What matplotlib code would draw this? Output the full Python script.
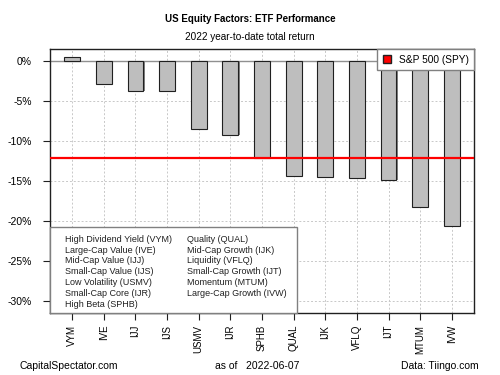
import matplotlib
matplotlib.use('Agg')
import matplotlib.pyplot as plt
from matplotlib.lines import Line2D
from matplotlib.patches import Rectangle

plt.rcParams['font.family'] = ['Liberation Sans', 'DejaVu Sans']

tickers = ['VYM', 'IVE', 'IJJ', 'IJS', 'USMV', 'IJR', 'SPHB', 'QUAL',
           'IJK', 'VFLQ', 'IJT', 'MTUM', 'IVW']
returns = [0.55, -2.9, -3.7, -3.8, -8.5, -9.3, -12.1, -14.4,
           -14.5, -14.6, -14.9, -18.3, -20.6]
spy_return = -12.1
names = ['High Dividend Yield (VYM)', 'Large-Cap Value (IVE)', 'Mid-Cap Value (IJJ)',
         'Small-Cap Value (IJS)', 'Low Volatility (USMV)', 'Small-Cap Core (IJR)',
         'High Beta (SPHB)', 'Quality (QUAL)', 'Mid-Cap Growth (IJK)',
         'Liquidity (VFLQ)', 'Small-Cap Growth (IJT)', 'Momentum (MTUM)',
         'Large-Cap Growth (IVW)']
yticks = [0, -5, -10, -15, -20, -25, -30]

fig = plt.figure(figsize=(5, 3.75), dpi=100)
ax = fig.add_axes([0.1, 0.1653, 0.848, 0.704])

x = list(range(len(tickers)))
ax.set_xlim(-0.7, len(tickers) - 0.3)
ax.set_ylim(-31.5, 1.5)

# grid
for xi in x:
    ax.axvline(xi, color='#c8c8c8', lw=0.7, ls=(0, (2, 2)), zorder=0)
for yv in yticks:
    ax.axhline(yv, color='#c8c8c8', lw=0.7, ls=(0, (2, 2)), zorder=0)
ax.axhline(0, color='#909090', lw=1, zorder=1)

# shadow then bars
ax.bar([xi + 0.04 for xi in x], returns, width=0.5, color='#808080', zorder=2)
ax.bar(x, returns, width=0.5, color='#bebebe', edgecolor='#202020', lw=0.8, zorder=3)

ax.axhline(spy_return, color='red', lw=1.6, zorder=4)

ax.set_xticks(x)
ax.set_xticklabels(tickers, rotation=90, fontsize=7)
ax.set_yticks(yticks)
ax.set_yticklabels([f'{v}%' for v in yticks], fontsize=7.5)
ax.tick_params(length=5, width=0.8, color='#202020')
ax.tick_params(axis='y', pad=8)
for s in ax.spines.values():
    s.set_color('#202020')
    s.set_linewidth(1)

# name key box in the lower left (two columns: 7 + 6)
ax.add_patch(Rectangle((0, 0), 0.5825, 0.326, transform=ax.transAxes,
                       facecolor='white', edgecolor='#808080', lw=1,
                       zorder=5, clip_on=False))
for i, name in enumerate(names):
    col, row = divmod(i, 7)
    tx = 0.0354 if col == 0 else 0.323
    ty = (313 - (239.3 + 10.8 * row)) / 264
    ax.text(tx, ty, name, transform=ax.transAxes, fontsize=6.5,
            ha='left', va='center', color='#202020', zorder=6)

spy = Line2D([], [], marker='s', color='red', markeredgecolor='#202020',
             linestyle='none', markersize=6)
leg2 = ax.legend([spy], ['S&P 500 (SPY)'], loc='upper right', fontsize=7.3,
                 borderaxespad=0, fancybox=False, framealpha=1,
                 edgecolor='#808080', handlelength=1.0, handletextpad=0.6,
                 borderpad=0.55)
leg2.get_frame().set_linewidth(1)
leg2.set_zorder(5)

fig.text(0.5, 0.948, 'US Equity Factors: ETF Performance', ha='center',
         va='center', fontsize=7, fontweight='bold')
fig.text(0.5, 0.9, '2022 year-to-date total return', ha='center',
         va='center', fontsize=7.2)
fig.text(0.04, 0.025, 'CapitalSpectator.com', ha='left', va='center', fontsize=7.5)
fig.text(0.43, 0.025, 'as of   2022-06-07', ha='left', va='center', fontsize=7.5)
fig.text(0.957, 0.025, 'Data: Tiingo.com', ha='right', va='center', fontsize=7.5)

fig.savefig('out.png', dpi=100)
